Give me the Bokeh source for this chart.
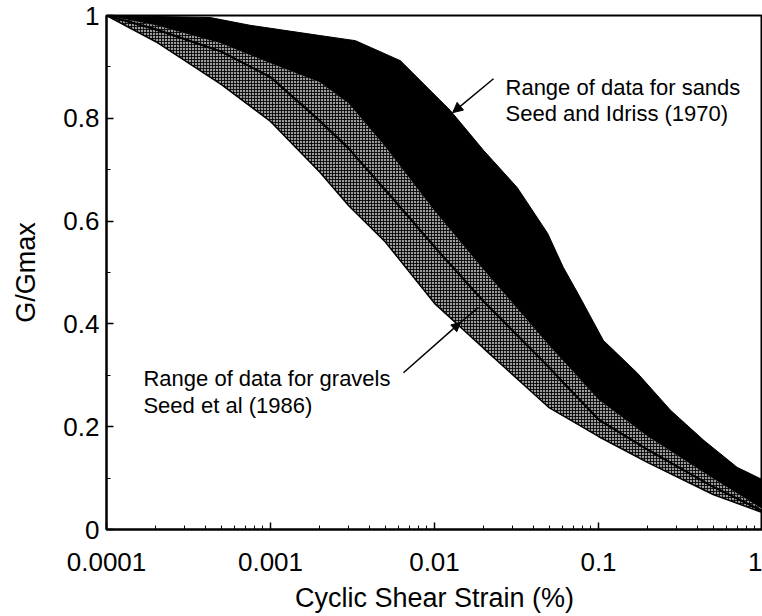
from bokeh.plotting import figure
from bokeh.models import FixedTicker, CustomJSTickFormatter, Arrow, NormalHead, Label
from bokeh.embed import file_html
from bokeh.resources import INLINE

# ---- data ----
sand_strain = [0.0001, 0.00043, 0.00075, 0.002, 0.0033, 0.0062, 0.0125, 0.02, 0.032,
               0.049, 0.061, 0.075, 0.107, 0.173, 0.275, 0.44, 0.70, 1.0]
sand_upper = [1.0, 0.996, 0.981, 0.961, 0.951, 0.912, 0.815, 0.737, 0.665,
              0.576, 0.510, 0.459, 0.368, 0.304, 0.232, 0.173, 0.121, 0.097]

gravel_strain = [0.0001, 0.0002, 0.0005, 0.001, 0.002, 0.003, 0.005, 0.01, 0.02, 0.05, 0.1, 0.2, 0.5, 1.0]
sand_lower = [1.0, 0.96, 0.90, 0.84, 0.75, 0.70, 0.62, 0.50, 0.40, 0.28, 0.20, 0.14, 0.075, 0.033]
gravel_upper = [1.0, 0.981, 0.946, 0.907, 0.870, 0.829, 0.745, 0.620, 0.505, 0.358, 0.253, 0.181, 0.099, 0.040]
gravel_mean = [1.0, 0.973, 0.930, 0.880, 0.795, 0.741, 0.661, 0.550, 0.443, 0.315, 0.214, 0.155, 0.083, 0.036]
gravel_lower = [1.0, 0.949, 0.866, 0.794, 0.695, 0.630, 0.560, 0.440, 0.352, 0.237, 0.181, 0.130, 0.068, 0.033]

x_ticks = [0.0001, 0.001, 0.01, 0.1, 1.0]
x_tick_labels = ["0.0001", "0.001", "0.01", "0.1", "1"]
y_ticks = [0.0, 0.2, 0.4, 0.6, 0.8, 1.0]
y_tick_labels = ["0", "0.2", "0.4", "0.6", "0.8", "1"]
y_minor_ticks = [0.1, 0.3, 0.5, 0.7, 0.9]

sands_text = ["Range of data for sands", "Seed and Idriss (1970)"]
gravels_text = ["Range of data for gravels", "Seed et al (1986)"]

FONT = "Liberation Sans"

p = figure(x_axis_type="log", x_range=(0.0001, 1.0), y_range=(0.0, 1.0),
           width=762, height=616,
           min_border_left=106, min_border_right=0, min_border_top=15, min_border_bottom=87,
           output_backend="svg", toolbar_location=None)

p.xgrid.visible = False
p.ygrid.visible = False
p.outline_line_color = "black"
p.outline_line_width = 2
p.background_fill_color = "white"
p.border_fill_color = "white"

# sands band (black)
p.patch(x=sand_strain + gravel_strain[::-1], y=sand_upper + sand_lower[::-1],
        fill_color="black", line_color="black", line_width=1)

# gravels band (hatched)
p.varea(x=gravel_strain, y1=gravel_lower, y2=gravel_upper,
        fill_color="#9c9c9c", hatch_pattern="cross", hatch_color="black",
        hatch_scale=3, hatch_weight=1, hatch_alpha=0.85)
p.line(x=gravel_strain, y=gravel_lower, line_color="black", line_width=1.5)
p.line(x=gravel_strain, y=gravel_mean, line_color="black", line_width=2.2)

# axes
x_minor = [k * 10.0 ** e for e in range(-4, 0) for k in range(2, 10)]
p.xaxis.ticker = FixedTicker(ticks=x_ticks, minor_ticks=x_minor)
p.xaxis.formatter = CustomJSTickFormatter(args=dict(tvals=x_ticks, tlabels=x_tick_labels), code="""
for (let i = 0; i < tvals.length; i++) {
  if (Math.abs(Math.log10(tick) - Math.log10(tvals[i])) < 1e-6) return tlabels[i];
}
return '';
""")
p.yaxis.ticker = FixedTicker(ticks=y_ticks, minor_ticks=y_minor_ticks)
p.yaxis.formatter = CustomJSTickFormatter(args=dict(tvals=y_ticks, tlabels=y_tick_labels), code="""
for (let i = 0; i < tvals.length; i++) {
  if (Math.abs(tick - tvals[i]) < 1e-9) return tlabels[i];
}
return '';
""")

for ax in (p.xaxis[0], p.yaxis[0]):
    ax.axis_line_color = "black"
    ax.axis_line_width = 2
    ax.major_tick_line_color = "black"
    ax.minor_tick_line_color = "black"
    ax.major_tick_line_width = 1.5
    ax.minor_tick_line_width = 1
    ax.major_tick_in = 7
    ax.major_tick_out = 0
    ax.minor_tick_in = 4
    ax.minor_tick_out = 0
    ax.major_label_text_font = FONT
    ax.major_label_text_font_size = "26px"
    ax.major_label_text_color = "black"
    ax.axis_label_text_font = FONT
    ax.axis_label_text_font_size = "27px"
    ax.axis_label_text_font_style = "normal"
    ax.axis_label_text_color = "black"

p.xaxis.axis_label = "Cyclic Shear Strain (%)"
p.yaxis.axis_label = "G/Gmax"
p.xaxis.major_label_standoff = 23
p.xaxis.axis_label_standoff = 9
p.yaxis.major_label_standoff = 7
p.yaxis.axis_label_standoff = 19

# annotations
sx, sy1, sy2 = 0.0271, 0.860, 0.809
p.add_layout(Label(x=sx, y=sy1, text=sands_text[0], text_font=FONT, text_font_size="22px",
                   text_baseline="alphabetic", text_color="black"))
p.add_layout(Label(x=sx, y=sy2, text=sands_text[1], text_font=FONT, text_font_size="22px",
                   text_baseline="alphabetic", text_color="black"))
p.add_layout(Arrow(end=NormalHead(size=10, fill_color="black", line_color="black"),
                   x_start=0.0229, y_start=0.877, x_end=0.0129, y_end=0.811,
                   line_color="black", line_width=1.5))

gx, gy1, gy2 = 0.000168, 0.294, 0.241
p.add_layout(Label(x=gx, y=gy1, text=gravels_text[0], text_font=FONT, text_font_size="22px",
                   text_baseline="alphabetic", text_color="black"))
p.add_layout(Label(x=gx, y=gy2, text=gravels_text[1], text_font=FONT, text_font_size="22px",
                   text_baseline="alphabetic", text_color="black"))
p.add_layout(Arrow(end=NormalHead(size=9, fill_color="black", line_color="black"),
                   x_start=0.00647, y_start=0.305, x_end=0.01441, y_end=0.403,
                   line_color="black", line_width=1.5))
p.line(x=[0.01441, 0.01854], y=[0.403, 0.432], line_color="black", line_width=1.5)

open("out.html", "w").write(file_html(p, INLINE))
